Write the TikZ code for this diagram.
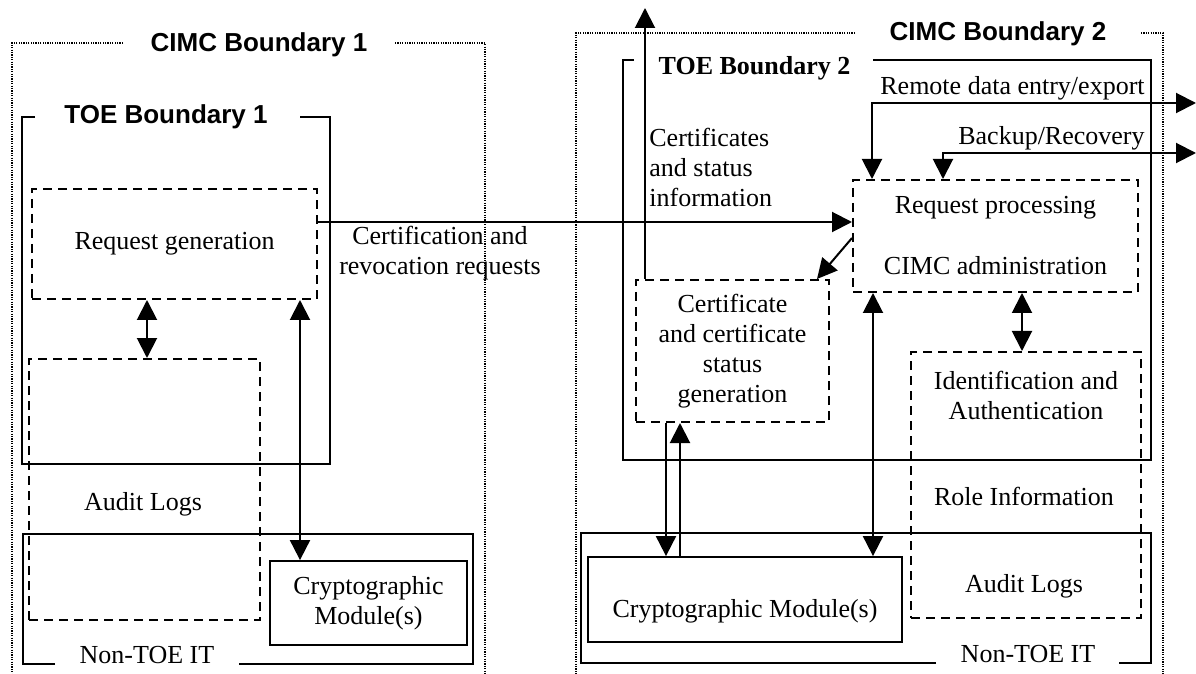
\documentclass[tikz,border=0pt]{standalone}
\usepackage{fontspec}
\setmainfont{Liberation Serif}
\setsansfont{Liberation Sans}
\usetikzlibrary{arrows.meta}

\tikzset{
  txt/.style={font=\fontsize{13}{15}\selectfont, align=center, inner sep=0pt},
  head/.style={font=\fontsize{13}{15}\selectfont\sffamily\bfseries, inner sep=0pt, anchor=base},
  serifhead/.style={head, font=\fontsize{13}{15}\selectfont\bfseries},
  dashbox/.style={draw, line width=1pt, dash pattern=on 4.5pt off 3pt, txt},
  solidbox/.style={draw, line width=0.9pt, txt},
  bound/.style={line width=0.9pt},
  dotbound/.style={line width=0.7pt, dash pattern=on 0.6pt off 0.6pt},
  arr/.style={line width=1pt, -{Triangle[length=10pt,width=10pt]}},
  dbl/.style={line width=1pt, {Triangle[length=10pt,width=10pt]}-{Triangle[length=10pt,width=10pt]}},
}

\begin{document}
\begin{tikzpicture}[x=0.5pt,y=-0.5pt]
\useasboundingbox (0,0) rectangle (1196,674);

% CIMC boundary 1
\draw[dotbound] (123,43) -- (12,43) -- (12,674);
\draw[dotbound] (395,43) -- (485,43) -- (485,674);
\node[head] (cimc1) at (259,52) {CIMC Boundary 1};

% TOE boundary 1
\draw[bound] (35,117) -- (22,117) -- (22,464) -- (330,464) -- (330,117) -- (300,117);
\node[head] (toe1) at (166,124) {TOE Boundary 1};

% Non-TOE IT 1
\draw[bound] (55,664) -- (23,664) -- (23,534) -- (473,534) -- (473,664) -- (239,664);
\node[txt, anchor=base] (nontoe1) at (147,663) {Non-TOE IT};

\node[dashbox, minimum width=142.5pt, minimum height=55pt] (reqgen) at (174.5,244) {Request generation};
\node[dashbox, minimum width=115.5pt, minimum height=130.5pt] (audit1) at (144.5,489.5) {};
\node[txt] (audit1txt) at (143,504) {Audit Logs};
\node[solidbox, minimum width=98.5pt, minimum height=42pt] (crypto1) at (368.5,603) {Cryptographic\\Module(s)};

% CIMC boundary 2
\draw[dotbound] (855,33) -- (576,33) -- (576,674);
\draw[dotbound] (1141,33) -- (1163,33) -- (1163,674);
\node[head] (cimc2) at (998,41) {CIMC Boundary 2};

% TOE boundary 2
\draw[bound] (634,60) -- (623,60) -- (623,460) -- (1151,460) -- (1151,60) -- (873,60);
\node[serifhead] (toe2) at (754.5,75) {TOE Boundary 2};

% Non-TOE IT 2
\draw[bound] (936,663) -- (581,663) -- (581,533) -- (1151,533) -- (1151,663) -- (1119,663);
\node[txt, anchor=base] (nontoe2) at (1028,662) {Non-TOE IT};

\node[dashbox, minimum width=142.5pt, minimum height=56pt] (reqproc) at (995.5,236) {Request processing\\[15.5pt]CIMC administration};
\node[dashbox, minimum width=96.5pt, minimum height=71pt] (certgen) at (732.5,351) {Certificate\\and certificate\\status\\generation};
\node[dashbox, minimum width=115pt, minimum height=133pt] (idauth) at (1026,485) {};
\node[txt] (idtxt) at (1026,395) {Identification and\\Authentication};
\node[txt] (roletxt) at (1024,496) {Role Information};
\node[txt] (audit2txt) at (1024,586) {Audit Logs};
\node[solidbox, minimum width=157pt, minimum height=42.5pt] (crypto2) at (745,599.5) {};
\node[txt] (crypto2txt) at (745,611) {Cryptographic Module(s)};

% labels on the flows
\node[txt] (reqlbl) at (440,253) {Certification and\\revocation requests};
\node[txt, align=left, anchor=west] (certlbl) at (649,167) {Certificates\\and status\\information};
\node[txt, anchor=base east] (remotelbl) at (1145,95) {Remote data entry/export};
\node[txt, anchor=base east] (backuplbl) at (1145,145) {Backup/Recovery};

\coordinate (certout) at (645,8);
\coordinate (remoteout) at (1196,103);
\coordinate (backupout) at (1196,153);

% flows
\draw[arr] ([yshift=11pt]reqgen.east) -- ([yshift=11pt]reqgen.east -| reqproc.west);
\draw[dbl] ([xshift=1.25pt]audit1.north) -- ([xshift=1.25pt]audit1.north |- reqgen.south);
\draw[dbl] ([xshift=-34.25pt]crypto1.north) -- ([xshift=-34.25pt]crypto1.north |- reqgen.south);

\draw[arr] ([xshift=-43.75pt]certgen.north) -- (certout);
\draw[arr] ([yshift=-1pt]reqproc.west) -- ([xshift=42.25pt]certgen.north);
\draw[dbl] (remoteout) -| ([xshift=-61.75pt]reqproc.north);
\draw[dbl] (backupout) -| ([xshift=-26.25pt]reqproc.north);
\draw[dbl] ([xshift=-2pt]idauth.north) -- ([xshift=-2pt]idauth.north |- reqproc.south);
\draw[dbl] ([xshift=64pt]crypto2.north) -- ([xshift=64pt]crypto2.north |- reqproc.south);
\draw[arr] ([xshift=-39.5pt]crypto2.north |- certgen.south) -- ([xshift=-39.5pt]crypto2.north);
\draw[arr] ([xshift=-32.5pt]crypto2.north) -- ([xshift=-32.5pt]crypto2.north |- certgen.south);

\end{tikzpicture}
\end{document}
